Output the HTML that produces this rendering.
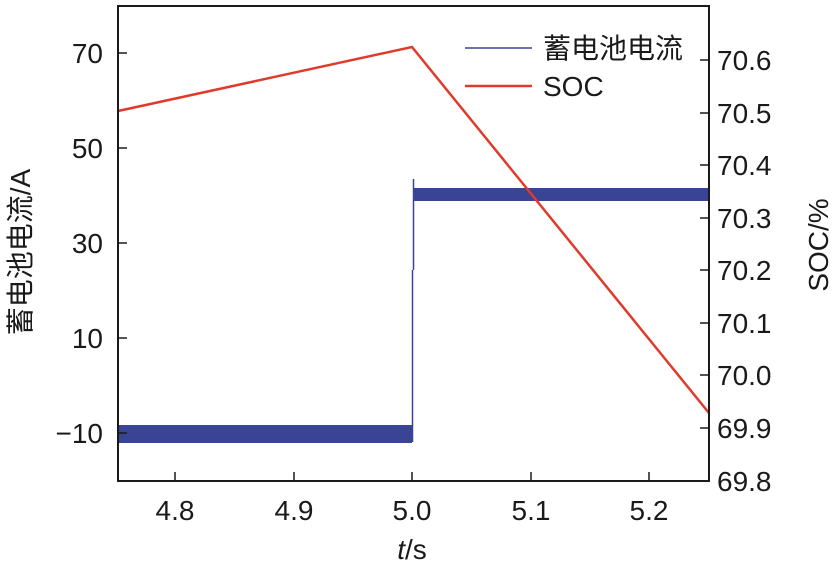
<!DOCTYPE html>
<html><head><meta charset="utf-8"><style>
html,body{margin:0;padding:0;background:#fff;}
svg{display:block;}
text{font-family:"Liberation Sans","Noto Sans CJK SC",sans-serif;fill:#1a1a1a;}
</style></head><body>
<svg width="837" height="566" viewBox="0 0 837 566" xmlns="http://www.w3.org/2000/svg">
<!-- current -->
<rect x="118" y="425" width="294" height="18" fill="#3a4494"/>
<line x1="412.5" y1="442" x2="412.5" y2="270" stroke="#3a4494" stroke-width="1.5"/>
<line x1="413.5" y1="270" x2="413.5" y2="179" stroke="#3a4494" stroke-width="1.5"/>
<rect x="413" y="188" width="296" height="13" fill="#3a4494"/>
<!-- SOC -->
<polyline points="118,111 412,47 709,413" fill="none" stroke="#e03a2a" stroke-width="2.5"/>
<!-- frame -->
<rect x="118" y="6" width="591" height="475" fill="none" stroke="#1a1a1a" stroke-width="2"/>
<g stroke="#1a1a1a" stroke-width="1.5">
<line x1="175" y1="481" x2="175" y2="472"/><line x1="294" y1="481" x2="294" y2="472"/>
<line x1="412" y1="481" x2="412" y2="472"/><line x1="531" y1="481" x2="531" y2="472"/>
<line x1="649" y1="481" x2="649" y2="472"/>
<line x1="118" y1="53" x2="127" y2="53"/><line x1="118" y1="148" x2="127" y2="148"/>
<line x1="118" y1="243" x2="127" y2="243"/><line x1="118" y1="338" x2="127" y2="338"/>
<line x1="118" y1="433" x2="127" y2="433"/>
<line x1="700" y1="60" x2="709" y2="60"/><line x1="700" y1="113" x2="709" y2="113"/>
<line x1="700" y1="165" x2="709" y2="165"/><line x1="700" y1="218" x2="709" y2="218"/>
<line x1="700" y1="270" x2="709" y2="270"/><line x1="700" y1="323" x2="709" y2="323"/>
<line x1="700" y1="375" x2="709" y2="375"/><line x1="700" y1="428" x2="709" y2="428"/>
</g>
<g font-size="28" text-anchor="middle">
<text x="175" y="520">4.8</text><text x="294" y="520">4.9</text><text x="412" y="520">5.0</text>
<text x="531" y="520">5.1</text><text x="649" y="520">5.2</text>
</g>
<text x="412" y="559" font-size="28" text-anchor="middle"><tspan font-style="italic">t</tspan>/s</text>
<g font-size="28" text-anchor="end">
<text x="103" y="63">70</text><text x="103" y="158">50</text><text x="103" y="253">30</text>
<text x="103" y="348">10</text><text x="103" y="443">−10</text>
</g>
<g font-size="28">
<text x="717" y="70">70.6</text><text x="717" y="123">70.5</text><text x="717" y="175">70.4</text>
<text x="717" y="228">70.3</text><text x="717" y="280">70.2</text><text x="717" y="333">70.1</text>
<text x="717" y="385">70.0</text><text x="717" y="438">69.9</text><text x="717" y="491">69.8</text>
</g>
<text transform="translate(30,252) rotate(-90)" font-size="28" text-anchor="middle">蓄电池电流/A</text>
<text transform="translate(828,245) rotate(-90)" font-size="28" text-anchor="middle">SOC/%</text>
<!-- legend -->
<line x1="465" y1="48" x2="532" y2="48" stroke="#3a4494" stroke-width="1.5"/>
<line x1="465" y1="86" x2="532" y2="86" stroke="#e03a2a" stroke-width="2.5"/>
<text x="543" y="58" font-size="28">蓄电池电流</text>
<text x="543" y="96" font-size="28">SOC</text>
</svg>
</body></html>
